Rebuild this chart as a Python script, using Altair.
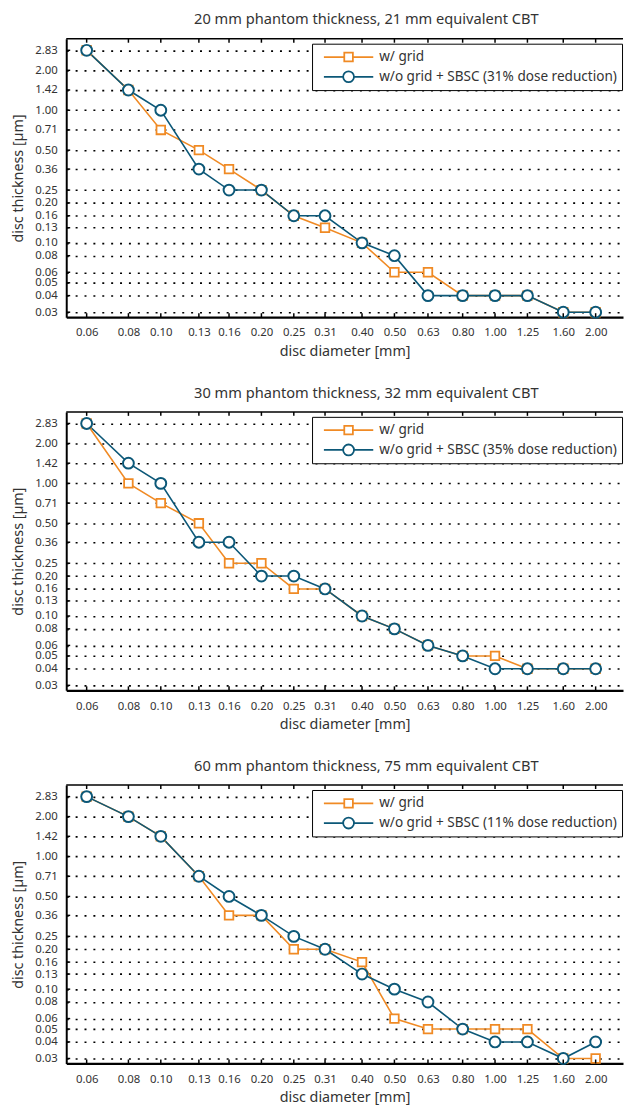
import altair as alt
import pandas as pd

FONT = "Noto Sans"
ORANGE = "#F08A24"
BLUE = "#0C5878"
TEXT = "#333333"

# ---- data ----
x_ticks = [0.06, 0.08, 0.10, 0.13, 0.16, 0.20, 0.25, 0.31, 0.40, 0.50, 0.63, 0.80, 1.00, 1.25, 1.60, 2.00]
y_ticks = [0.03, 0.04, 0.05, 0.06, 0.08, 0.10, 0.13, 0.16, 0.20, 0.25, 0.36, 0.50, 0.71, 1.00, 1.42, 2.00, 2.83]
diameters = [0.06, 0.08, 0.10, 0.13, 0.16, 0.20, 0.25, 0.31, 0.40, 0.50, 0.63, 0.80, 1.00, 1.25, 1.60, 2.00]

titles = [
    "20 mm phantom thickness, 21 mm equivalent CBT",
    "30 mm phantom thickness, 32 mm equivalent CBT",
    "60 mm phantom thickness, 75 mm equivalent CBT",
]
grid_label = "w/ grid"
sbsc_labels = [
    "w/o grid + SBSC (31% dose reduction)",
    "w/o grid + SBSC (35% dose reduction)",
    "w/o grid + SBSC (11% dose reduction)",
]

grid_1 = [2.83, 1.42, 0.71, 0.50, 0.36, 0.25, 0.16, 0.13, 0.10, 0.06, 0.06, 0.04, 0.04, 0.04, 0.03, 0.03]
sbsc_1 = [2.83, 1.42, 1.00, 0.36, 0.25, 0.25, 0.16, 0.16, 0.10, 0.08, 0.04, 0.04, 0.04, 0.04, 0.03, 0.03]

grid_2 = [2.83, 1.00, 0.71, 0.50, 0.25, 0.25, 0.16, 0.16, 0.10, 0.08, 0.06, 0.05, 0.05, 0.04, 0.04, 0.04]
sbsc_2 = [2.83, 1.42, 1.00, 0.36, 0.36, 0.20, 0.20, 0.16, 0.10, 0.08, 0.06, 0.05, 0.04, 0.04, 0.04, 0.04]

grid_3 = [2.83, 2.00, 1.42, 0.71, 0.36, 0.36, 0.20, 0.20, 0.16, 0.06, 0.05, 0.05, 0.05, 0.05, 0.03, 0.03]
sbsc_3 = [2.83, 2.00, 1.42, 0.71, 0.50, 0.36, 0.25, 0.20, 0.13, 0.10, 0.08, 0.05, 0.04, 0.04, 0.03, 0.04]

panels_data = [(grid_1, sbsc_1), (grid_2, sbsc_2), (grid_3, sbsc_3)]

W, H = 564, 282

# legend symbols: line with marker (unit coordinates, scaled by sqrt(size)/2)
SQ_PATH = "M-1,0H-0.174M0.174,0H1M-0.174,-0.174H0.174V0.174H-0.174Z"
CI_PATH = "M-1,0H-0.22M0.22,0H1M-0.22,0A0.22,0.22,0,1,1,0.22,0A0.22,0.22,0,1,1,-0.22,0Z"


def panel(title, grid_vals, sbsc_vals, sbsc_label):
    df = pd.DataFrame({
        "d": diameters + diameters,
        "t": grid_vals + sbsc_vals,
        "series": [grid_label] * len(diameters) + [sbsc_label] * len(diameters),
    })
    xs = alt.Scale(type="log", domain=[0.05213, 2.415], nice=False)
    ys = alt.Scale(type="log", domain=[0.02753, 3.458], nice=False)
    X = alt.X("d:Q", scale=xs, axis=alt.Axis(
        values=x_ticks, format=".2f", title="disc diameter [mm]", grid=False, ticks=False,
        labelOverlap=False, labelPadding=10, domainWidth=2.2, domainColor="black", titlePadding=6))
    Y = alt.Y("t:Q", scale=ys, axis=alt.Axis(
        values=y_ticks, format=".2f", title="disc thickness [µm]", grid=True, gridDash=[2, 7],
        gridColor="black", gridWidth=1.6, ticks=False, labelOverlap=False, labelPadding=9,
        domainWidth=2, domainColor="black", titlePadding=9))

    base = alt.Chart(df)
    line_g = base.transform_filter(alt.datum.series == grid_label).mark_line(
        color=ORANGE, strokeWidth=1.6).encode(X, Y)
    line_s = base.transform_filter(alt.datum.series == sbsc_label).mark_line(
        color=BLUE, strokeWidth=1.6).encode(X, Y)
    pts_g = base.transform_filter(alt.datum.series == grid_label).mark_point(
        shape="square", size=76, filled=False, fill="white", fillOpacity=1,
        color=ORANGE, strokeWidth=1.8, opacity=1).encode(X, Y)
    pts_s = base.transform_filter(alt.datum.series == sbsc_label).mark_point(
        shape="circle", size=121, filled=False, fill="white", fillOpacity=1,
        color=BLUE, strokeWidth=2, opacity=1).encode(X, Y)

    xt = pd.DataFrame({"d": x_ticks})
    yt = pd.DataFrame({"t": y_ticks})
    one = pd.DataFrame({"k": [0]})
    top_ticks = alt.Chart(xt).mark_rule(color="black", strokeWidth=1.5).encode(
        x=X, y=alt.value(0), y2=alt.value(4))
    bot_ticks = alt.Chart(xt).mark_rule(color="black", strokeWidth=1.5).encode(
        x=X, y=alt.value(H - 4), y2=alt.value(H))
    left_ticks = alt.Chart(yt).mark_rule(color="black", strokeWidth=1.5).encode(
        y=Y, x=alt.value(0), x2=alt.value(4))
    top_line = alt.Chart(one).mark_rule(color="black", strokeWidth=1.6).encode(
        x=alt.value(0), x2=alt.value(W), y=alt.value(0))

    leg_params = dict(
        title=None, orient="none", legendX=249, legendY=5, direction="vertical",
        strokeColor="black", fillColor="white", padding=5, cornerRadius=0,
        symbolSize=2500, symbolStrokeWidth=1.8, symbolOffset=6, labelOffset=5,
        clipHeight=17, rowPadding=3, labelFont=FONT, labelFontSize=13.75, labelLimit=0,
        labelColor=TEXT, symbolOpacity=1, symbolFillColor="white",
    )
    legend_layer = base.transform_filter("datum.d < 0").mark_point(filled=False).encode(
        X, Y,
        color=alt.Color("series:N", scale=alt.Scale(domain=[grid_label, sbsc_label], range=[ORANGE, BLUE]),
                        legend=alt.Legend(**leg_params)),
        shape=alt.Shape("series:N", scale=alt.Scale(domain=[grid_label, sbsc_label], range=[SQ_PATH, CI_PATH]),
                        legend=alt.Legend(**leg_params)),
    )

    return alt.layer(
        line_g, line_s, pts_g, pts_s, top_ticks, bot_ticks, left_ticks, top_line, legend_layer
    ).properties(
        width=W, height=H,
        title=alt.TitleParams(title, font=FONT, fontSize=14.8, fontWeight="normal", color=TEXT,
                              anchor="middle", frame="group", dx=22, offset=11),
    )


charts = [panel(titles[i], panels_data[i][0], panels_data[i][1], sbsc_labels[i]) for i in range(3)]

chart = alt.vconcat(*charts, spacing=28).resolve_scale(
    color="independent", shape="independent"
).resolve_legend(
    color="independent", shape="independent"
).properties(
    padding={"left": 3, "top": -3, "right": 0, "bottom": 0}
).configure_view(stroke=None).configure_axis(
    labelFont=FONT, titleFont=FONT, labelColor=TEXT, titleColor=TEXT,
    labelFontSize=11.5, titleFontSize=14.5, titleFontWeight="normal",
)

chart.save("out.html", embed_options={"renderer": "svg", "actions": False})
